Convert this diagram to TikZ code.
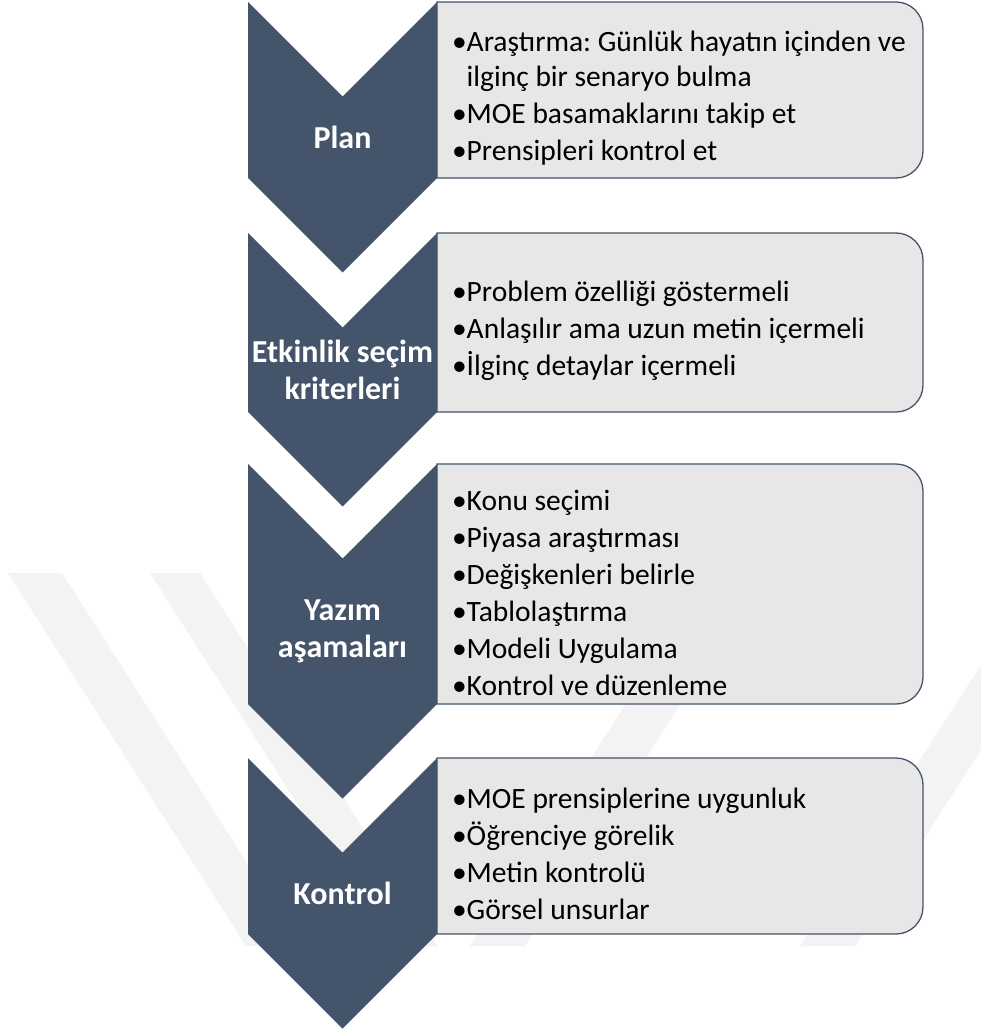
\documentclass[tikz,border=0pt]{standalone}
\usepackage{fontspec}
\setmainfont{Carlito}
\usetikzlibrary{positioning}

\definecolor{slate}{RGB}{68,84,106}
\definecolor{panel}{RGB}{231,231,231}
\definecolor{wmark}{RGB}{243,243,243}

\newcommand{\itm}[1]{\par\hangindent=14.5pt\hangafter=1\noindent\makebox[14.5pt][l]{•}#1}

\begin{document}
\begin{tikzpicture}[
        x=1pt, y=-1pt,
        chev/.style={
          fill=slate
        },
        chevtext/.style={
          text=white, inner sep=0pt,
          align=center,
          font=\fontsize{32}{37}\selectfont\bfseries
        },
        panelbox/.style={
          draw=slate, line width=1.3pt, fill=panel
        },
        list/.style={
          anchor=west, inner sep=0pt,
          text width=468pt, align=flush left,
          font=\fontsize{29.5}{35}\selectfont\frenchspacing\setlength{\parskip}{2pt}
        }
      ]
        \useasboundingbox (0,0) rectangle (981,1032);

        % watermark
        \fill[wmark] (8,573) -- (62,573) -- (300,946) -- (246,946) -- cycle;
        \fill[wmark] (150,573) -- (200,573) -- (438,946) -- (388,946) -- cycle;
        \fill[wmark] (470,946) -- (525,946) -- (765,573) -- (710,573) -- cycle;
        \fill[wmark] (800,946) -- (855,946) -- (981,750) -- (981,665) -- cycle;

        % panels
        \draw[panelbox] (437,2) -- (896,2) arc[start angle=-90, end angle=0, radius=27]
          -- (923,151) arc[start angle=0, end angle=90, radius=27] -- (437,178) -- cycle;
        \draw[panelbox] (437,233) -- (896,233) arc[start angle=-90, end angle=0, radius=27]
          -- (923,385) arc[start angle=0, end angle=90, radius=27] -- (437,412) -- cycle;
        \draw[panelbox] (437,464) -- (896,464) arc[start angle=-90, end angle=0, radius=27]
          -- (923,677) arc[start angle=0, end angle=90, radius=27] -- (437,704) -- cycle;
        \draw[panelbox] (437,758) -- (896,758) arc[start angle=-90, end angle=0, radius=27]
          -- (923,907) arc[start angle=0, end angle=90, radius=27] -- (437,934) -- cycle;

        \node[list] (planlist) at (452,90) {%
          \itm{Araştırma: Günlük hayatın içinden ve ilginç bir senaryo bulma}
          \itm{MOE basamaklarını takip et}
          \itm{Prensipleri kontrol et}};
        \node[list] (secimlist) at (452,322.5) {%
          \itm{Problem özelliği göstermeli}
          \itm{Anlaşılır ama uzun metin içermeli}
          \itm{İlginç detaylar içermeli}};
        \node[list] (yazimlist) at (452,585) {%
          \itm{Konu seçimi}
          \itm{Piyasa araştırması}
          \itm{Değişkenleri belirle}
          \itm{Tablolaştırma}
          \itm{Modeli Uygulama}
          \itm{Kontrol ve düzenleme}};
        \node[list] (kontrollist) at (452,846) {%
          \itm{MOE prensiplerine uygunluk}
          \itm{Öğrenciye görelik}
          \itm{Metin kontrolü}
          \itm{Görsel unsurlar}};

        % chevrons
        \fill[chev] (248,2) -- (342.5,96.5) -- (437,2) -- (437,178) -- (342.5,272.5) -- (248,178) -- cycle;
        \fill[chev] (248,233) -- (342.5,327.5) -- (437,233) -- (437,412) -- (342.5,506.5) -- (248,412) -- cycle;
        \fill[chev] (248,464) -- (342.5,558.5) -- (437,464) -- (437,704) -- (342.5,798.5) -- (248,704) -- cycle;
        \fill[chev] (248,758) -- (342.5,852.5) -- (437,758) -- (437,934) -- (342.5,1028.5) -- (248,934) -- cycle;

        \node[chevtext] (plan) at (342.5,137.25) {Plan};
        \node[chevtext] (secim) at (342.5,369.75) {Etkinlik seçim\\kriterleri};
        \node[chevtext] (yazim) at (342.5,631.25) {Yazım\\aşamaları};
        \node[chevtext] (kontrol) at (342.5,893.25) {Kontrol};
      \end{tikzpicture}
\end{document}
